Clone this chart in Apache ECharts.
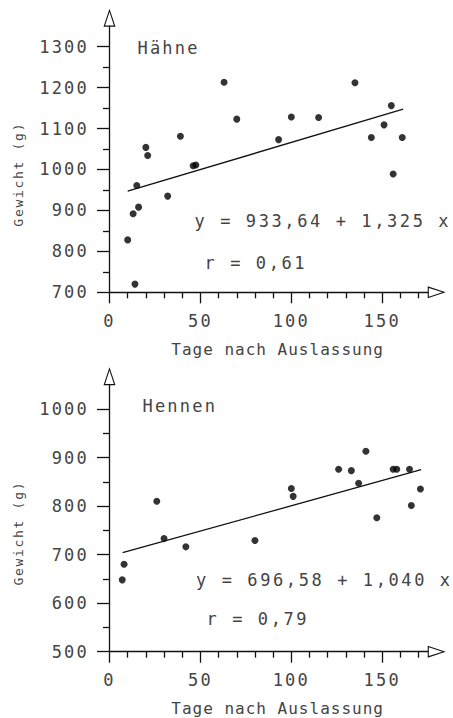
<!DOCTYPE html>
<html>
<head>
<meta charset="utf-8">
<script src="https://cdn.jsdelivr.net/npm/echarts@6/dist/echarts.min.js"></script>
<style>
  html, body { margin: 0; padding: 0; background: #fff; }
  #chart { width: 453px; height: 718px; }
  /* wide plotter-style lettering: spacing keyed on the font size of each text group */
  #chart text[style*="17px"] { letter-spacing: 2.2px; }
  #chart text[style*="17.01px"] { letter-spacing: 2.6px; }
  #chart text[style*="16px"] { letter-spacing: 1px; }
  #chart text[style*="13px"] { letter-spacing: 1.7px; }
</style>
</head>
<body>
<div id="chart"></div>
<script>
// Panel titles and axis titles
const panelTitles = ['Hähne', 'Hennen'];
const xAxisTitle = 'Tage nach Auslassung';
const yAxisTitle = 'Gewicht (g)';

// Tick labels
const xTickValues = [0, 50, 100, 150];
const yTickValuesHaehne = [700, 800, 900, 1000, 1100, 1200, 1300];
const yTickValuesHennen = [500, 600, 700, 800, 900, 1000];

// Hähne: days after release vs. weight (g)
const haehneDays = [10, 13, 14, 15, 16, 20, 21, 32, 39, 46, 47.5, 63, 70, 93, 100, 115, 135, 144, 151, 155, 156, 161];
const haehneWeights = [828, 892, 720, 961, 908, 1054, 1034, 935, 1081, 1009, 1011, 1213, 1123, 1073, 1128, 1127, 1212, 1078, 1109, 1156, 989, 1078];

// Hennen: days after release vs. weight (g)
const henneDays = [7, 8, 26, 30, 42, 80, 100, 101, 126, 133, 137, 141, 147, 156, 158, 165, 166, 171];
const henneWeights = [648, 680, 810, 733, 716, 729, 836, 820, 876, 873, 847, 913, 776, 876, 876, 876, 801, 835];

// Regression lines: [intercept, slope], correlation and fitted day range
const haehneFit = [933.64, 1.325];
const henneFit = [696.58, 1.040];
const haehneR = 0.61;
const henneR = 0.79;
const haehneFitRange = [10, 161.5];
const henneFitRange = [7.2, 171.4];

const FONT = 'DejaVu Sans Mono';
const INK = '#111';
const TEXT = '#444';
// hollow triangle arrow head, 12 x 18 (outer and inner outline wound in opposite directions)
const arrowPath = 'path://M6 0L12 18L0 18ZM6 3.3L1.6 16.9L10.4 16.9Z';

function fmt(v, digits) {
  return v.toFixed(digits).replace('.', ',');
}
function equationText(fit) {
  return 'y = ' + fmt(fit[0], 2) + ' + ' + fmt(fit[1], 3) + ' x';
}
function fitLine(fit, range) {
  return range.map(function (x) { return [x, fit[0] + fit[1] * x]; });
}
function pairs(xs, ys) {
  return xs.map(function (x, i) { return [x, ys[i]]; });
}
function plain(v) {
  return String(v);
}

const axisLineStyle = { color: INK, width: 1.3 };

function xAxisFor(gridIndex) {
  return {
    type: 'value', gridIndex: gridIndex,
    min: 0, max: 175, interval: 50,
    axisLine: {
      show: true, onZero: false, lineStyle: axisLineStyle,
      symbol: ['none', arrowPath], symbolSize: [12, 18], symbolOffset: [0, 9]
    },
    axisTick: { show: true, length: 11, customValues: xTickValues, lineStyle: axisLineStyle },
    minorTick: { show: true, splitNumber: 5, length: 6, lineStyle: axisLineStyle },
    axisLabel: { customValues: xTickValues, formatter: plain, margin: 20, fontSize: 17, fontFamily: FONT, color: TEXT },
    splitLine: { show: false },
    minorSplitLine: { show: false },
    name: xAxisTitle, nameLocation: 'middle', nameGap: 49,
    nameTextStyle: { fontSize: 16, fontFamily: FONT, color: TEXT, padding: [0, 0, 0, 18] }
  };
}

function yAxisFor(gridIndex, min, max, ticks) {
  return {
    type: 'value', gridIndex: gridIndex,
    min: min, max: max, interval: 100,
    axisLine: {
      show: true, onZero: false, lineStyle: axisLineStyle,
      symbol: ['none', arrowPath], symbolSize: [12, 18], symbolOffset: [0, 8.5]
    },
    axisTick: { show: true, length: 12.5, customValues: ticks, lineStyle: axisLineStyle },
    minorTick: { show: true, splitNumber: 2, length: 6.5, lineStyle: axisLineStyle },
    axisLabel: { customValues: ticks, formatter: plain, margin: 20.5, fontSize: 17, fontFamily: FONT, color: TEXT },
    splitLine: { show: false },
    minorSplitLine: { show: false },
    name: yAxisTitle, nameLocation: 'middle', nameGap: 85,
    nameTextStyle: { fontSize: 13, fontFamily: FONT, color: TEXT, padding: [0, 30, 0, 0] }
  };
}

function textItem(text, x, y, size) {
  return {
    type: 'text', x: x, y: y, silent: true,
    style: { text: text, fontSize: size, fontFamily: FONT, fill: TEXT, align: 'left', verticalAlign: 'middle' }
  };
}

const chart = echarts.init(document.getElementById('chart'), null, { renderer: 'svg' });

chart.setOption({
  animation: false,
  backgroundColor: '#fff',
  grid: [
    { left: 109.5, top: 26.2, width: 318.2, height: 266.1 },
    { left: 109.5, top: 384.7, width: 318.2, height: 267 }
  ],
  xAxis: [xAxisFor(0), xAxisFor(1)],
  yAxis: [
    yAxisFor(0, 700, 1350, yTickValuesHaehne),
    yAxisFor(1, 500, 1050, yTickValuesHennen)
  ],
  graphic: [
    textItem(panelTitles[0], 137.5, 47.8, 17),
    textItem(equationText(haehneFit), 194.5, 221.2, 17.01),
    textItem('r = ' + fmt(haehneR, 2), 204.5, 262.8, 17.01),
    textItem(panelTitles[1], 142.5, 405.8, 17),
    textItem(equationText(henneFit), 196, 579.7, 17.01),
    textItem('r = ' + fmt(henneR, 2), 206.5, 618.7, 17.01)
  ],
  series: [
    {
      type: 'scatter', xAxisIndex: 0, yAxisIndex: 0,
      data: pairs(haehneDays, haehneWeights),
      symbol: 'circle', symbolSize: 7, itemStyle: { color: '#000' }
    },
    {
      type: 'line', xAxisIndex: 0, yAxisIndex: 0,
      data: fitLine(haehneFit, haehneFitRange),
      symbol: 'none', lineStyle: { color: INK, width: 1.3 }
    },
    {
      type: 'scatter', xAxisIndex: 1, yAxisIndex: 1,
      data: pairs(henneDays, henneWeights),
      symbol: 'circle', symbolSize: 7, itemStyle: { color: '#000' }
    },
    {
      type: 'line', xAxisIndex: 1, yAxisIndex: 1,
      data: fitLine(henneFit, henneFitRange),
      symbol: 'none', lineStyle: { color: INK, width: 1.3 }
    }
  ]
});
</script>
</body>
</html>
